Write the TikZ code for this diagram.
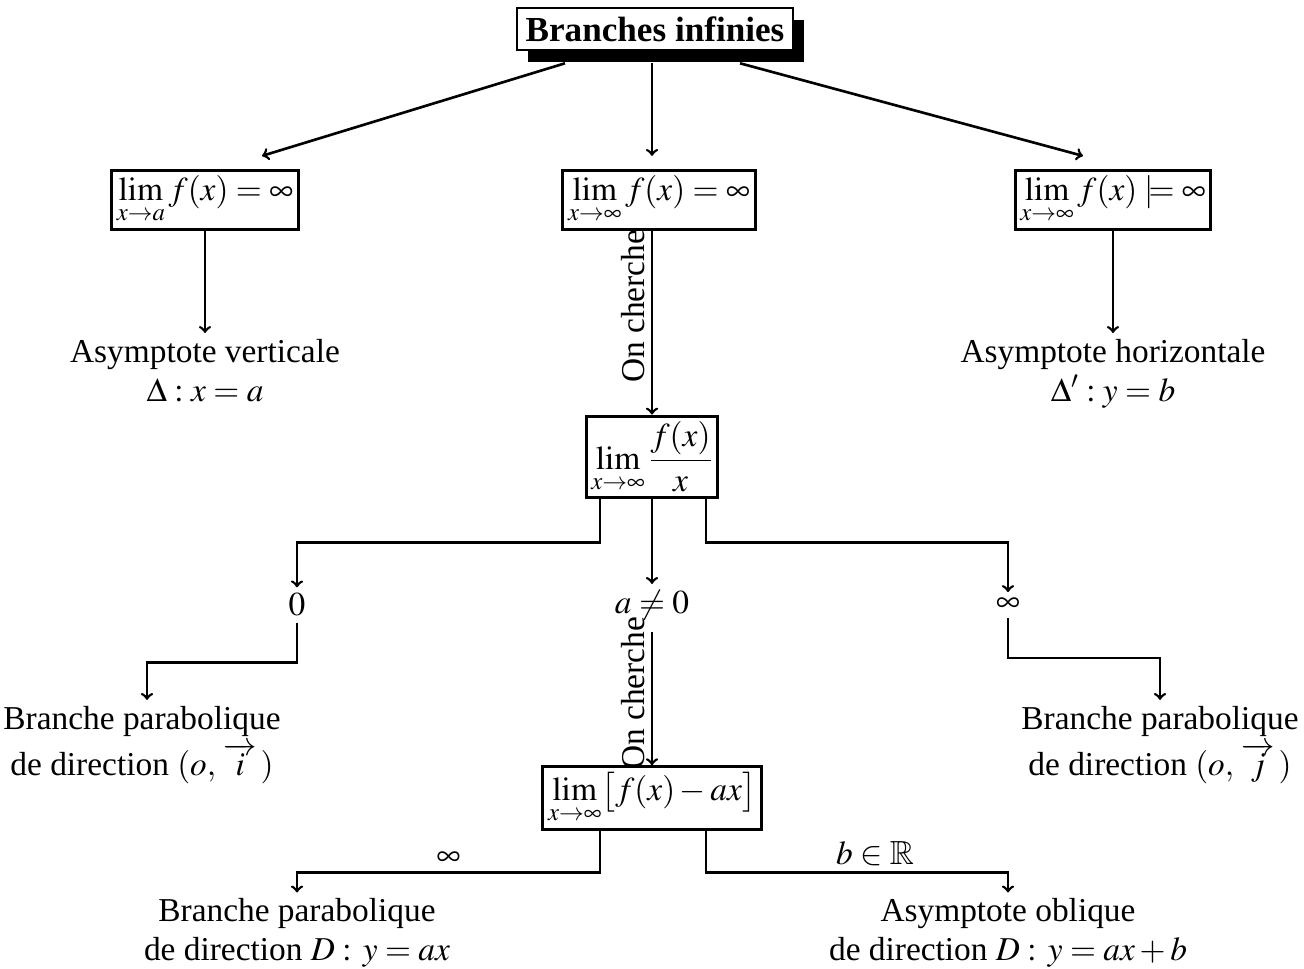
\documentclass[tikz,border=0pt]{standalone}
\usepackage{amssymb}
\usepackage{mathptmx}
\usepackage[no-math]{fontspec}
\setmainfont{Liberation Serif}
\usetikzlibrary{arrows,positioning,calc,shadows}

\begin{document}
\begin{tikzpicture}[x=0.02cm,y=-0.02cm,>=to,
  every node/.style={font=\fontsize{19}{22}\selectfont},
  boite/.style={draw,line width=1.7pt,inner sep=3pt,fill=white},
  fleche/.style={->,line width=1.5pt}]
\useasboundingbox (0,0) rectangle (1304,969);
% titre
\node[boite,line width=1.1pt,inner xsep=5pt,inner ysep=5pt,font=\fontsize{20}{22}\selectfont\bfseries,
  general shadow={fill=black,shadow xshift=0.22cm,shadow yshift=-0.24cm}] (titre) at (655,29) {Branches infinies};
% premier niveau
\node[boite] (limA) at (205,200) {$\displaystyle\lim_{x\to a} f(x)=\infty$};
\node[boite] (limInf) at (659,200) {$\displaystyle\lim_{x\to\infty} f(x)=\infty$};
\node[boite] (limB) at (1113,200) {$\displaystyle\lim_{x\to\infty} f(x)\models\infty$};
\node[align=center,anchor=north] (vert) at (205,333) {Asymptote verticale\\$\Delta:x=a$};
\node[align=center,anchor=north] (horiz) at (1113,333) {Asymptote horizontale\\$\Delta':y=b$};
% f(x)/x
\node[boite] (ratio) at (652,457) {$\displaystyle\lim_{x\to\infty}\frac{f(x)}{x}$};
\node (zero) at (297,605) {$0$};
\node (anz) at (652,605) {$a\neq0$};
\node (infty) at (1008,605) {$\infty$};
\node[align=center] (parabI) at (142,745) {Branche parabolique\\[3pt]de direction $(o,\,\overrightarrow{i}\,)$};
\node[align=center] (parabJ) at (1160,745) {Branche parabolique\\[3pt]de direction $(o,\,\overrightarrow{j}\,)$};
% f(x)-ax
\node[boite] (affine) at (652,798) {$\displaystyle\lim_{x\to\infty}\bigl[f(x)-ax\bigr]$};
\node[align=center] (parabD) at (297,933) {Branche parabolique\\de direction $D:\,y=ax$};
\node[align=center] (oblique) at (1008,933) {Asymptote oblique\\de direction $D:\,y=ax+b$};

\draw[fleche] ($(titre.south -| 565,0)+(0,12)$) -- ($(limA.north -| 262,0)+(0,-13)$);
\draw[fleche] ($(titre.south -| 652,0)+(0,12)$) -- ($(limInf.north -| 652,0)+(0,-13)$);
\draw[fleche] ($(titre.south -| 740,0)+(0,12)$) -- ($(limB.north -| 1083,0)+(0,-13)$);
\draw[fleche] (limA) -- (vert);
\draw[fleche] (limB) -- (horiz);
\draw[fleche] (limInf.south -| 652,0) -- node[rotate=90,above,pos=0.41] {On cherche} (ratio.north -| 652,0);
\draw[fleche] (ratio.south -| 600,0) -- ++(0,43) -| (zero.north);
\draw[fleche] (ratio.south) -- (anz.north);
\draw[fleche] (ratio.south -| 706,0) -- ++(0,43) -| (infty.north);
\draw[fleche] (zero.south) -- ++(0,40) -| (parabI.north -| 147,0);
\draw[fleche] (infty.south) -- ++(0,40) -| (parabJ.north);
\draw[fleche] ($(anz.south)+(0,6)$) -- node[rotate=90,above,pos=0.46] {On cherche} (affine.north);
\draw[fleche] (affine.south -| 600,0) -- ++(0,42) -| node[pos=0.25,above] {$\infty$} (parabD.north);
\draw[fleche] (affine.south -| 706,0) -- ++(0,42) -| node[pos=0.28,above] {$b\in\mathbb{R}$} (oblique.north);
\end{tikzpicture}
\end{document}
